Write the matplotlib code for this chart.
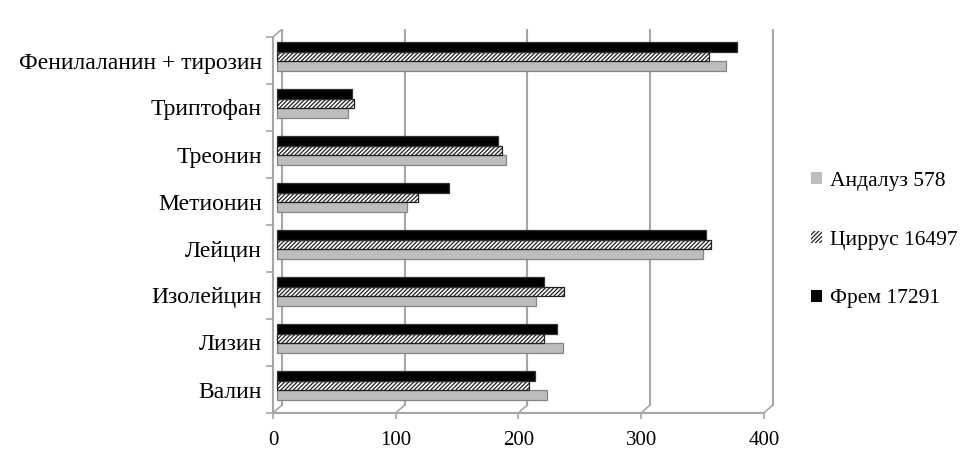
import numpy as np
import matplotlib
matplotlib.use("Agg")
from matplotlib import pyplot as plt
from matplotlib.patches import Patch

plt.rcParams["font.family"] = ["Liberation Serif", "DejaVu Serif"]
plt.rcParams["hatch.linewidth"] = 0.9

# categories from bottom to top
categories = ["Валин", "Лизин", "Изолейцин", "Лейцин",
              "Метионин", "Треонин", "Триптофан", "Фенилаланин + тирозин"]
andaluz = [220, 233, 211, 347, 106, 187, 58, 366]
cirrus = [205, 218, 234, 354, 115, 183, 63, 352]
frem = [210, 228, 218, 350, 140, 180, 61, 375]

series_labels = ["Андалуз 578", "Циррус 16497", "Фрем 17291"]
x_ticks = [0, 100, 200, 300, 400]

GRID = "#a6a6a6"
PX_X = 1.227   # px per value unit
PX_Y = 47.0    # px per category
DX_BAR = 4 / PX_X
DX_BACK = 9 / PX_X
DY_BACK = 8 / PX_Y
HATCH = "/" * 8

fig = plt.figure(figsize=(9.78, 4.61), dpi=100)
ax = fig.add_axes([273 / 978, 48 / 461, (785 - 273) / 978, (432 - 48) / 461])
ax.set_xlim(0, (785 - 273) / PX_X)
ax.set_ylim(0, (432 - 48) / PX_Y)

# back wall gridlines and floor
top = len(categories)
for v in x_ticks:
    ax.plot([v + DX_BACK] * 2, [DY_BACK, top + DY_BACK], color=GRID, lw=1.5, zorder=1)
    ax.plot([v, v + DX_BACK], [0, DY_BACK], color=GRID, lw=1.2, zorder=1, clip_on=False)
ax.plot([0, DX_BACK], [top, top + DY_BACK], color=GRID, lw=1.2, zorder=1)

y = np.arange(len(categories))
h = 0.2
ax.barh(y + 0.38, andaluz, height=h, left=DX_BAR, color="#bdbdbd",
        edgecolor="#858585", lw=0.9, zorder=3)
ax.barh(y + 0.58, cirrus, height=h, left=DX_BAR, color="white",
        edgecolor="#222222", hatch=HATCH, lw=0.9, zorder=3)
ax.barh(y + 0.79, frem, height=h, left=DX_BAR, color="black",
        edgecolor="#333333", lw=0.9, zorder=3)

for s in ["top", "right"]:
    ax.spines[s].set_visible(False)
ax.spines["left"].set_bounds(0, top)
ax.spines["bottom"].set_bounds(0, 400)
for s in ["left", "bottom"]:
    ax.spines[s].set_color(GRID)
    ax.spines[s].set_linewidth(1.5)

ax.set_xticks(x_ticks)
ax.set_xticklabels([str(t) for t in x_ticks])
ax.set_yticks(np.arange(top + 1))
ax.set_yticklabels([])
ax.set_yticks(y + 0.5, minor=True)
ax.set_yticklabels(categories, minor=True)
ax.tick_params(axis="y", which="major", length=5, color=GRID, width=1.2)
ax.tick_params(axis="y", which="minor", length=0, pad=8, labelsize=17)
ax.tick_params(axis="x", length=4, color=GRID, width=1.2, pad=9, labelsize=15)

handles = [Patch(facecolor="#bdbdbd", edgecolor="none"),
           Patch(facecolor="white", edgecolor="#222222", hatch=HATCH, lw=0),
           Patch(facecolor="black", edgecolor="none")]
fig.legend(handles, series_labels, loc="center left",
           bbox_to_anchor=(800 / 978, 1 - 240 / 461), frameon=False,
           fontsize=15.5, handlelength=0.5, handleheight=0.5,
           handletextpad=0.4, labelspacing=1.85, borderpad=0)

fig.savefig("out.png", dpi=100)
